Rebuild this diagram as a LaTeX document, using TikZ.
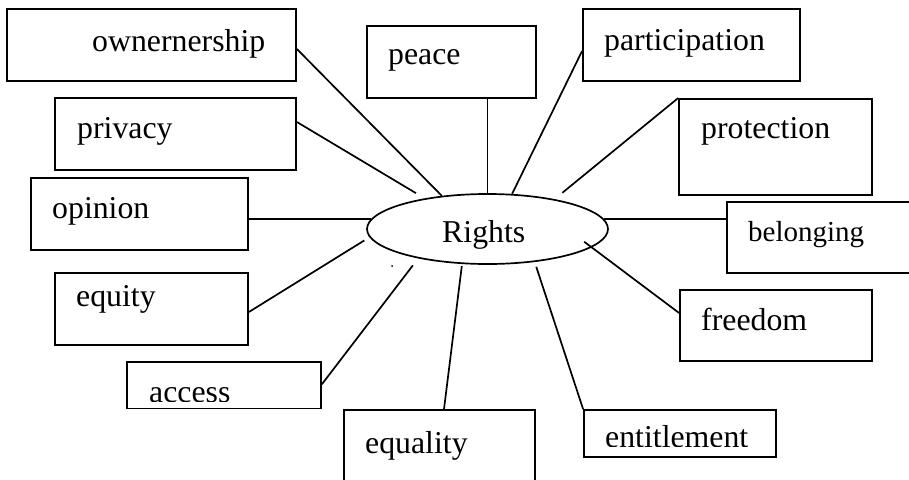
\documentclass[tikz,border=0pt]{standalone}
\usepackage{fontspec}
\setmainfont{Liberation Serif}
\usetikzlibrary{shapes.geometric}
\tikzset{
  box/.style={draw, line width=1.8pt, inner sep=0pt, rectangle},
  lbl/.style={inner sep=0pt, anchor=base west, font=\fontsize{31.8}{38}\selectfont},
  lblsmall/.style={inner sep=0pt, anchor=base west, font=\fontsize{29}{35}\selectfont},
  ell/.style={draw, ellipse, line width=1.7pt, inner sep=0pt, minimum width=241pt, minimum height=70pt},
  conn/.style={line width=1.7pt}
}
\begin{document}
\begin{tikzpicture}[x=1pt,y=-1pt]
\useasboundingbox (0,0) rectangle (909,479);
% boxes
\node[box, minimum width=289pt, minimum height=72pt] (own) at (151.5,45) {};
\node[box, minimum width=169pt, minimum height=72pt] (peace) at (451.5,62) {};
\node[box, minimum width=217pt, minimum height=72pt] (part) at (691.5,45) {};
\node[box, minimum width=193pt, minimum height=96pt] (prot) at (775.5,147) {};
\node[box, minimum width=188pt, minimum height=71pt] (bel) at (821,237.5) {};
\node[box, minimum width=192pt, minimum height=71pt] (free) at (776,325.5) {};
\node[box, minimum width=192pt, minimum height=47pt] (ent) at (680,433.5) {};
\node[box, minimum width=191pt, minimum height=80pt] (equal) at (439.5,450) {};
\node[box, minimum width=194pt, minimum height=46.5pt] (acc) at (224,385.25) {};
\node[box, minimum width=193pt, minimum height=72pt] (equi) at (151.5,309) {};
\node[box, minimum width=217pt, minimum height=72pt] (opin) at (139.5,214) {};
\node[box, minimum width=241pt, minimum height=72pt] (priv) at (175.5,134) {};
% central ellipse
\node[ell] (r) at (487.5,229) {};
\node[lbl] (tr) at (442,242) {Rights};
\node[circle, fill, inner sep=0pt, minimum size=2pt] (dot) at (392,266) {};
% labels
\node[lbl] (town) at (92,51) {ownernership};
\node[lbl] (tpeace) at (388,64) {peace};
\node[lbl] (tpart) at (604,50) {participation};
\node[lbl] (tprot) at (701,138) {protection};
\node[lblsmall] (tbel) at (748,241) {belonging};
\node[lbl] (tfree) at (701,330) {freedom};
\begin{scope}
\clip (584,410) rectangle (776,446.5);
\node[lbl] (tent) at (605,447.5) {entitlement};
\end{scope}
\node[lbl] (tequal) at (365,453) {equality};
\begin{scope}
\clip (127,362) rectangle (321,401);
\node[lbl] (tacc) at (149,402) {access};
\end{scope}
\node[lbl] (tequi) at (76,306) {equity};
\node[lbl] (topin) at (52,218) {opinion};
\node[lbl] (tpriv) at (77,138) {privacy};
% connectors
\draw[conn] ([yshift=-4pt]own.east) -- (r.144);
\draw[conn, shorten >=10pt] ([yshift=12pt]priv.east) -- (r.154.65);
\draw[conn] (r.175) -- (r.175 -| opin.east);
\draw[conn] (r.north) -- (r.north |- peace.south);
\draw[conn] ([yshift=-6pt]part.west) -- (r.55.6);
\draw[conn, shorten >=10pt] (prot.north west) -- (r.24.7);
\draw[conn] (r.5) -- (r.5 -| bel.west);
\draw[conn, shorten <=-9.4pt] (r.350.3) -- ([yshift=12.5pt]free.west);
\draw[conn, shorten <=5pt] (r.325.5) -- (ent.north west);
\draw[conn, shorten <=2pt] (r.234.5) -- ([xshift=4.5pt]equal.north);
\draw[conn, shorten <=8.7pt] (r.203.9) -- ([yshift=1pt]acc.east);
\draw[conn, shorten <=6pt] (r.184.95) -- ([yshift=-3pt]equi.east);
\end{tikzpicture}
\end{document}
